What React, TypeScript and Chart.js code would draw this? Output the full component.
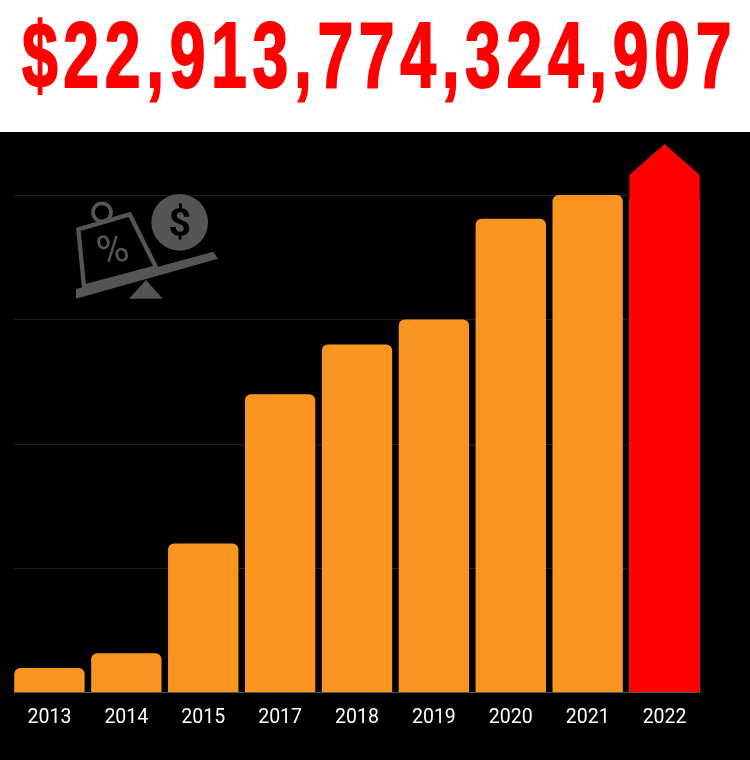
import React, { useEffect, useRef } from "react";
import { Chart, registerables } from "chart.js";

Chart.register(...registerables);

const totalLabel = "$22,913,774,324,907";
const years = ["2013", "2014", "2015", "2017", "2018", "2019", "2020", "2021", "2022"];
const orangeValues = [1, 1.6, 6, 12, 14, 15, 19.05, 20, 20];
const redValues = [null, null, null, null, null, null, null, null, 20.8];
const arrowTipValue = 22.05;
const gridValues = [5, 10, 15, 20];

const arrowAndGrid = {
  id: "arrowAndGrid",
  beforeDatasetsDraw(chart: any) {
    const { ctx, scales } = chart;
    const bars = chart.getDatasetMeta(0).data;
    const left = bars[0].x - bars[0].width / 2;
    const right = bars[bars.length - 1].x + bars[bars.length - 1].width / 2;
    ctx.save();
    ctx.strokeStyle = "#222222";
    ctx.lineWidth = 1;
    for (const v of gridValues) {
      const y = Math.round(scales.y.getPixelForValue(v)) + 0.5;
      ctx.beginPath();
      ctx.moveTo(left, y);
      ctx.lineTo(right, y);
      ctx.stroke();
    }
    ctx.restore();
  },
  afterDatasetsDraw(chart: any) {
    const { ctx, scales } = chart;
    const bar = chart.getDatasetMeta(1).data[8];
    const last = redValues[8] as number;
    ctx.save();
    ctx.fillStyle = "#ff0000";
    ctx.beginPath();
    ctx.moveTo(bar.x - bar.width / 2, scales.y.getPixelForValue(last));
    ctx.lineTo(bar.x, scales.y.getPixelForValue(arrowTipValue));
    ctx.lineTo(bar.x + bar.width / 2, scales.y.getPixelForValue(last));
    ctx.closePath();
    ctx.fill();
    const bars = chart.getDatasetMeta(0).data;
    const left = bars[0].x - bars[0].width / 2;
    const right = bars[bars.length - 1].x + bars[bars.length - 1].width / 2;
    const y0 = Math.round(scales.y.getPixelForValue(0)) - 0.5;
    ctx.strokeStyle = "#555555";
    ctx.lineWidth = 1;
    ctx.beginPath();
    ctx.moveTo(left, y0);
    ctx.lineTo(right, y0);
    ctx.stroke();
    ctx.restore();
  },
};

export default function App() {
  const canvasRef = useRef<HTMLCanvasElement>(null);
  useEffect(() => {
    document.body.style.margin = "0";
    document.body.style.background = "#ffffff";
    const chart = new Chart(canvasRef.current!, {
      type: "bar",
      data: {
        labels: years,
        datasets: [
          { data: orangeValues, backgroundColor: "#fb9521", borderRadius: 6, borderSkipped: "bottom", grouped: false, order: 2 },
          { data: redValues, backgroundColor: "#ff0000", borderRadius: 0, grouped: false, order: 1 },
        ],
      } as any,
      plugins: [arrowAndGrid],
      options: {
        animation: false,
        responsive: false,
        devicePixelRatio: 1,
        layout: { padding: { left: 11, right: 47, top: 0, bottom: 0 } },
        plugins: { legend: { display: false }, tooltip: { enabled: false } },
        datasets: { bar: { categoryPercentage: 1, barPercentage: 0.915 } },
        scales: {
          x: {
            grid: { display: false },
            border: { display: false },
            afterFit(scale: any) { scale.height = 67; },
            ticks: {
              color: "#ffffff",
              padding: 5,
              maxRotation: 0,
              autoSkip: false,
              font: { family: "Roboto", size: 19.5 },
            },
          },
          y: {
            display: false,
            min: 0,
            max: 22.53,
          },
        },
      } as any,
    });
    return () => chart.destroy();
  }, []);

  return (
    <div style={{ position: "relative", width: 750, height: 760, background: "#fff", overflow: "hidden" }}>
      <div
        style={{
          position: "absolute",
          left: 0,
          top: 0,
          width: 759,
          height: 132,
          color: "#ff0000",
          fontFamily: '"Liberation Sans", sans-serif',
          fontWeight: 700,
          fontSize: 92,
          lineHeight: "110px",
          letterSpacing: "8px",
          whiteSpace: "nowrap",
          WebkitTextStroke: "2px #ff0000",
          transform: "scaleX(0.7)",
          transformOrigin: "379.5px 55px",
          display: "flex",
          justifyContent: "center",
        }}
      >
        <span style={{ flex: "none" }}>{totalLabel}</span>
      </div>
      <div style={{ position: "absolute", left: 0, top: 132, width: 750, height: 628, background: "#000" }}>
        <canvas ref={canvasRef} width={750} height={628} style={{ display: "block" }} />
      </div>
      <svg
        viewBox="0 0 510 390"
        width={170}
        height={130}
        style={{ position: "absolute", left: 60, top: 180 }}
      >
        <polygon points="48,327 460,215 474,236 48,356" fill="#555" />
        <polygon points="207,356 258,300 308,356" fill="#555" />
        <polygon points="55,148 209,103 288,262 72,320" fill="none" stroke="#555" strokeWidth="13" />
        <circle cx="126" cy="97" r="27" fill="none" stroke="#555" strokeWidth="11" />
        <circle cx="359" cy="127" r="85" fill="#555" />
        <text x="359" y="168" textAnchor="middle" fontFamily="Roboto" fontWeight="700" fontSize="118" fill="#000">$</text>
        <text x="157" y="250" textAnchor="middle" fontFamily="Roboto" fontWeight="400" fontSize="125" fill="#555" transform="rotate(-15 157 206)">%</text>
      </svg>
    </div>
  );
}
